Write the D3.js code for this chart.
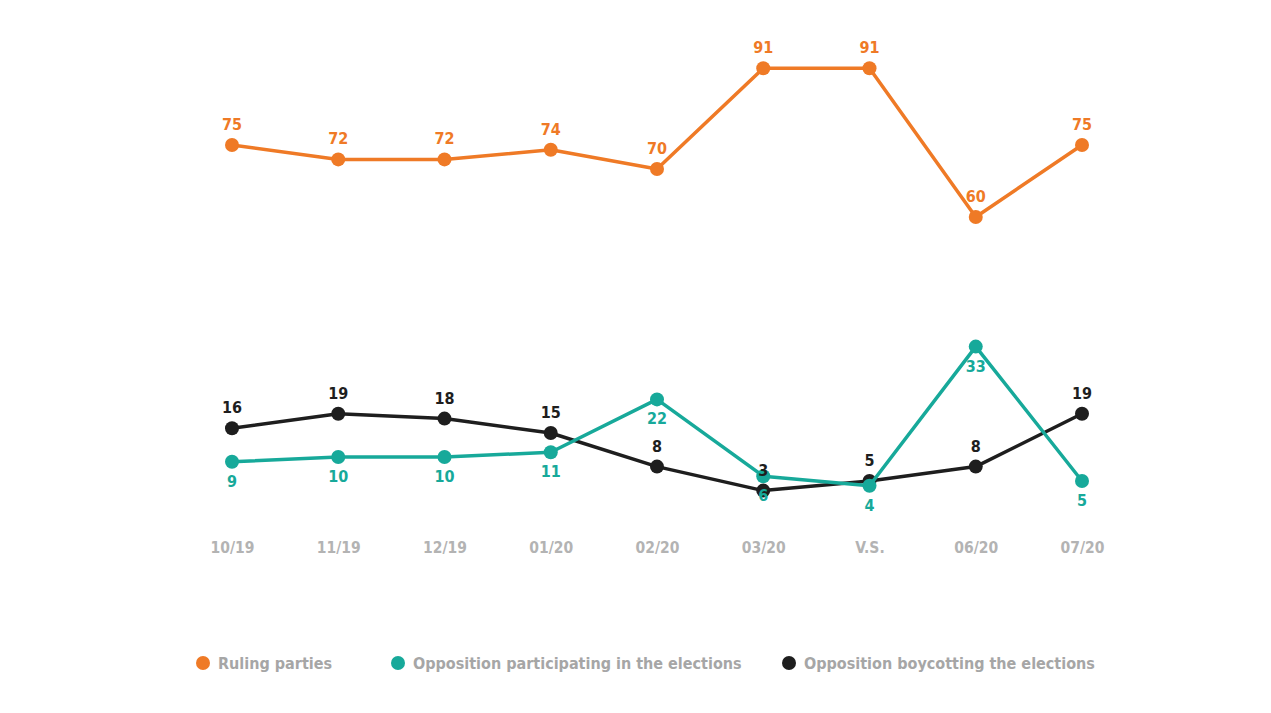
<!DOCTYPE html>
<html>
<head>
<meta charset="utf-8">
<script src="https://cdn.jsdelivr.net/npm/d3@7"></script>
<style>
  html, body { margin: 0; padding: 0; background: #ffffff; }
  svg { display: block; }
  text { font-family: "DejaVu Sans Condensed", "DejaVu Sans", sans-serif; font-weight: bold; }
</style>
</head>
<body>
<svg id="chart" width="1271" height="713"></svg>
<script>
// Survey periods on the x axis
const categories = ["10/19", "11/19", "12/19", "01/20", "02/20", "03/20", "V.S.", "06/20", "07/20"];

// Share of respondents per group
const rulingParties    = [75, 72, 72, 74, 70, 91, 91, 60, 75];
const oppParticipating = [9, 10, 10, 11, 22, 6, 4, 33, 5];
const oppBoycotting    = [16, 19, 18, 15, 8, 3, 5, 8, 19];

const seriesNames = ["Ruling parties", "Opposition participating in the elections", "Opposition boycotting the elections"];

const series = [
  { name: seriesNames[0], values: rulingParties,    color: "#ef7a26", labelPos: "above" },
  { name: seriesNames[1], values: oppParticipating, color: "#17a99a", labelPos: "below" },
  { name: seriesNames[2], values: oppBoycotting,    color: "#1e1e1e", labelPos: "above" }
];

const svg = d3.select("#chart");

const x = d3.scalePoint().domain(categories).range([232, 1082]);
const y = d3.scaleLinear().domain([0, 100]).range([505, 25]);

// Category labels along the bottom
const xAxis = d3.axisBottom(x).tickSize(0).tickPadding(0);
const axisG = svg.append("g")
  .attr("transform", "translate(0,542)")
  .call(xAxis);
axisG.select(".domain").remove();
axisG.selectAll("text")
  .attr("dy", "0.71em")
  .style("font-family", "'DejaVu Sans Condensed', 'DejaVu Sans', sans-serif")
  .style("font-weight", "bold")
  .style("font-size", "15.5px")
  .attr("fill", "#b3b3b3");

const line = d3.line()
  .x((d, i) => x(categories[i]))
  .y(d => y(d));

// Lines, drawn back to front: boycotting, participating, ruling
const drawOrder = [series[2], series[1], series[0]];

drawOrder.forEach(s => {
  const g = svg.append("g");
  g.append("path")
    .datum(s.values)
    .attr("d", line)
    .attr("fill", "none")
    .attr("stroke", s.color)
    .attr("stroke-width", 3.5)
    .attr("stroke-linejoin", "round");
  g.selectAll("circle")
    .data(s.values)
    .join("circle")
    .attr("cx", (d, i) => x(categories[i]))
    .attr("cy", d => y(d))
    .attr("r", 7)
    .attr("fill", s.color);
});

// Value labels
series.forEach(s => {
  svg.append("g").selectAll("text")
    .data(s.values)
    .join("text")
    .attr("x", (d, i) => x(categories[i]))
    .attr("y", d => s.labelPos === "above" ? y(d) - 15 : y(d) + 25)
    .attr("text-anchor", "middle")
    .attr("font-size", 16)
    .attr("fill", s.color)
    .text(d => d);
});

// Legend
const legendX = [203, 398, 789];
const legend = svg.append("g");
series.forEach((s, i) => {
  legend.append("circle")
    .attr("cx", legendX[i])
    .attr("cy", 663)
    .attr("r", 7)
    .attr("fill", s.color);
  legend.append("text")
    .attr("x", legendX[i] + 15)
    .attr("y", 669)
    .attr("font-size", 16)
    .attr("fill", "#a6a6a6")
    .text(s.name);
});
</script>
</body>
</html>
